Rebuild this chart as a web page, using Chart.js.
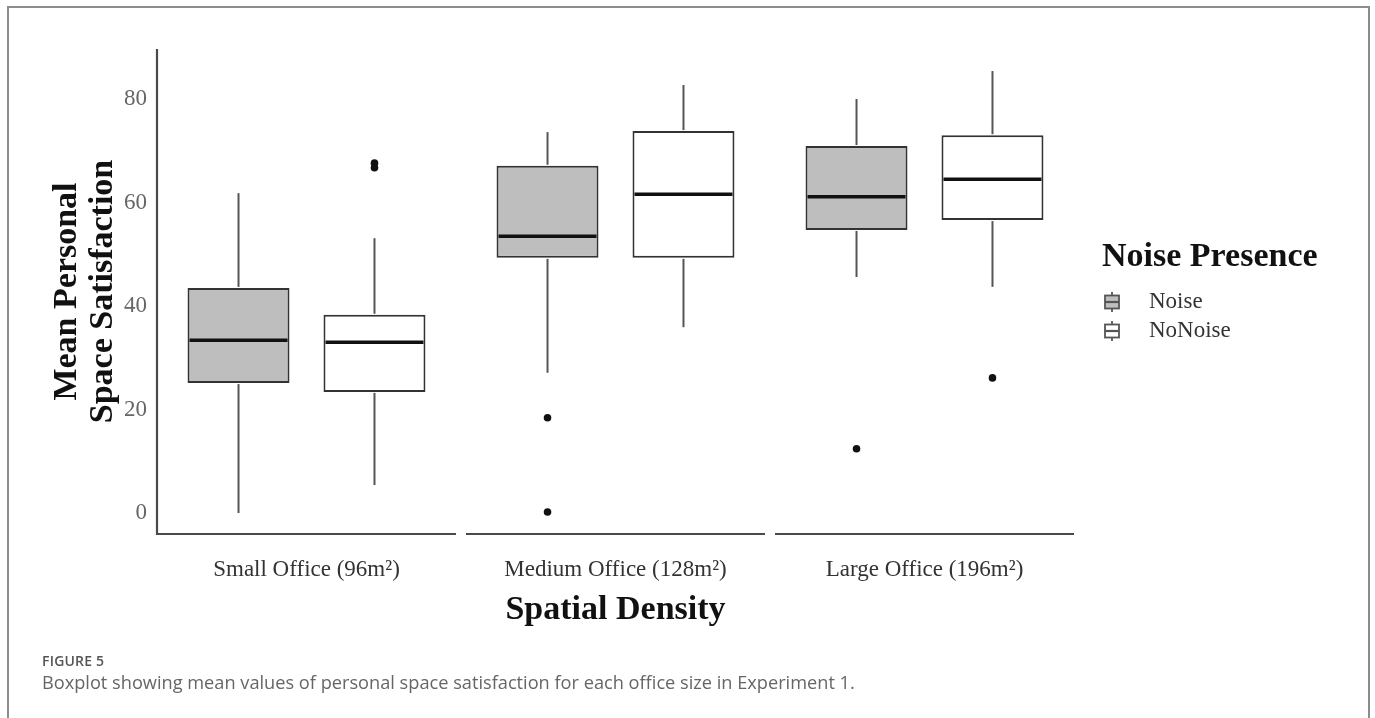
<!DOCTYPE html>
<html>
<head>
<meta charset="utf-8">
<script src="https://cdn.jsdelivr.net/npm/chart.js@4.4.0/dist/chart.umd.min.js"></script>
<style>
  html, body { margin: 0; padding: 0; background: #fff; overflow: hidden; }
  #frame { position: absolute; left: 7px; top: 6px; width: 1359px; height: 800px; border: 2px solid #8c8c8c; }
  #c { position: absolute; left: 0; top: 0; }
  .fig { position: absolute; left: 42px; top: 651px; font: 600 14px "Open Sans"; color: #555; letter-spacing: 0.2px; }
  .cap { position: absolute; left: 42px; top: 670px; font: 400 18.2px "Open Sans"; color: #666; }
</style>
</head>
<body>
<div id="frame"></div>
<canvas id="c" width="1375" height="718"></canvas>
<div class="fig">FIGURE 5</div>
<div class="cap">Boxplot showing mean values of personal space satisfaction for each office size in Experiment 1.</div>

<script>
// ====== data ======
const categories = ["Small Office (96m²)", "Medium Office (128m²)", "Large Office (196m²)"];
const yTicks = [0, 20, 40, 60, 80];
const legendTitle = "Noise Presence";

// Noise group
const noiseLow = [0, 27.1, 45.6];
const noiseQ1 = [25.1, 49.3, 54.7];
const noiseMedian = [33.4, 53.5, 61.1];
const noiseQ3 = [43.5, 67.1, 70.9];
const noiseHigh = [61.8, 73.6, 80.0];
const noiseOutliers = [[], [18.4, 0.2], [12.4]];

// NoNoise group
const noNoiseLow = [5.4, 35.9, 43.7];
const noNoiseQ1 = [23.4, 49.3, 56.6];
const noNoiseMedian = [33.0, 61.6, 64.5];
const noNoiseQ3 = [38.3, 73.8, 73.0];
const noNoiseHigh = [53.1, 82.7, 85.4];
const noNoiseOutliers = [[67.6, 66.7], [], [26.1]];

// boxes are floating bars q1..q3
function boxes(q1, q3) {
  let out = [];
  for (let i = 0; i < q1.length; i++) {
    out.push([q1[i], q3[i]]);
  }
  return out;
}

function line(ctx, x1, y1, x2, y2) {
  ctx.beginPath();
  ctx.moveTo(x1, y1);
  ctx.lineTo(x2, y2);
  ctx.stroke();
}

// axis lines (ggplot classic look, x axis broken per panel)
const axisLines = {
  id: "axisLines",
  beforeDatasetsDraw(chart) {
    const ctx = chart.ctx;
    const a = chart.chartArea;
    const xs = chart.scales.x;
    const band = xs.width / categories.length;
    ctx.save();
    ctx.strokeStyle = "#4a4a4a";
    ctx.lineWidth = 2.2;
    line(ctx, a.left + 5, a.top, a.left + 5, a.bottom + 1);
    for (let i = 0; i < categories.length; i++) {
      const cx = xs.getPixelForValue(i);
      line(ctx, cx - band / 2 + 5, a.bottom, cx + band / 2 - 5, a.bottom);
    }
    ctx.restore();
  },
};

// whiskers, medians and outlier points on top of the bars
const boxParts = {
  id: "boxParts",
  afterDatasetsDraw(chart) {
    const ctx = chart.ctx;
    const y = chart.scales.y;
    ctx.save();
    chart.data.datasets.forEach((ds, d) => {
      const meta = chart.getDatasetMeta(d);
      meta.data.forEach((bar, i) => {
        const x = bar.x;
        const half = bar.width / 2;
        ctx.strokeStyle = "#555";
        ctx.lineWidth = 2;
        line(ctx, x, y.getPixelForValue(ds.q3[i]) - 1, x, y.getPixelForValue(ds.high[i]));
        line(ctx, x, y.getPixelForValue(ds.q1[i]) + 1, x, y.getPixelForValue(ds.low[i]));

        const ym = y.getPixelForValue(ds.median[i]);
        ctx.strokeStyle = "#111";
        ctx.lineWidth = 3.5;
        line(ctx, x - half + 2, ym, x + half - 2, ym);

        ctx.fillStyle = "#111";
        ds.outliers[i].forEach((v) => {
          ctx.beginPath();
          ctx.arc(x, y.getPixelForValue(v), 3.8, 0, Math.PI * 2);
          ctx.fill();
        });
      });
    });
    ctx.restore();
  },
};

// legend drawn to the right of the plot
const noiseLegend = {
  id: "noiseLegend",
  afterDraw(chart) {
    const ctx = chart.ctx;
    const a = chart.chartArea;
    const x0 = a.right + 23;
    ctx.save();
    ctx.fillStyle = "#111";
    ctx.textBaseline = "middle";
    ctx.font = "bold 34px 'Liberation Serif'";
    ctx.fillText(legendTitle, x0, a.top + 208);

    chart.data.datasets.forEach((ds, d) => {
      const yc = a.top + 253 + d * 29;
      const ix = x0 + 10;
      ctx.strokeStyle = "#555";
      ctx.lineWidth = 1.8;
      line(ctx, ix, yc - 10, ix, yc + 10);
      ctx.fillStyle = ds.backgroundColor;
      ctx.fillRect(ix - 7, yc - 6.5, 14, 13);
      ctx.strokeRect(ix - 7, yc - 6.5, 14, 13);
      ctx.lineWidth = 2.2;
      line(ctx, ix - 7, yc, ix + 7, yc);

      ctx.fillStyle = "#333";
      ctx.font = "23px 'Liberation Serif'";
      ctx.fillText(ds.label, x0 + 47, yc);
    });
    ctx.restore();
  },
};

const ctx = document.getElementById("c").getContext("2d");

new Chart(ctx, {
  type: "bar",
  data: {
    labels: categories,
    datasets: [
      {
        label: "Noise",
        data: boxes(noiseQ1, noiseQ3),
        q1: noiseQ1, q3: noiseQ3, median: noiseMedian,
        low: noiseLow, high: noiseHigh, outliers: noiseOutliers,
        backgroundColor: "#bebebe",
        borderColor: "#333",
        borderWidth: 2,
        borderSkipped: false,
      },
      {
        label: "NoNoise",
        data: boxes(noNoiseQ1, noNoiseQ3),
        q1: noNoiseQ1, q3: noNoiseQ3, median: noNoiseMedian,
        low: noNoiseLow, high: noNoiseHigh, outliers: noNoiseOutliers,
        backgroundColor: "#ffffff",
        borderColor: "#333",
        borderWidth: 2,
        borderSkipped: false,
      },
    ],
  },
  options: {
    responsive: false,
    animation: false,
    categoryPercentage: 0.88,
    barPercentage: 0.75,
    layout: {
      padding: { left: 49, top: 49, right: 296, bottom: 90 },
    },
    plugins: {
      legend: { display: false },
      tooltip: { enabled: false },
    },
    scales: {
      x: {
        grid: { display: false, drawTicks: false },
        border: { display: false },
        ticks: {
          padding: 22,
          color: "#333",
          font: { family: "Liberation Serif", size: 23 },
        },
        title: {
          display: true,
          text: "Spatial Density",
          color: "#111",
          padding: 0,
          font: { family: "Liberation Serif", size: 34, weight: "bold", lineHeight: 1.06 },
        },
        afterFit: (scale) => {
          scale.height = 94;
        },
      },
      y: {
        min: -4.06,
        max: 89.66,
        grid: { display: false, drawTicks: false },
        border: { display: false },
        afterBuildTicks: (scale) => {
          scale.ticks = yTicks.map((v) => ({ value: v }));
        },
        ticks: {
          padding: 5,
          color: "#666",
          font: { family: "Liberation Serif", size: 23 },
        },
        title: {
          display: true,
          text: ["Mean Personal", "Space Satisfaction"],
          color: "#111",
          padding: 0,
          font: { family: "Liberation Serif", size: 34, weight: "bold", lineHeight: 1.06 },
        },
        afterFit: (scale) => {
          scale.width = 103;
        },
      },
    },
  },
  plugins: [axisLines, boxParts, noiseLegend],
});
</script>
</body>
</html>
